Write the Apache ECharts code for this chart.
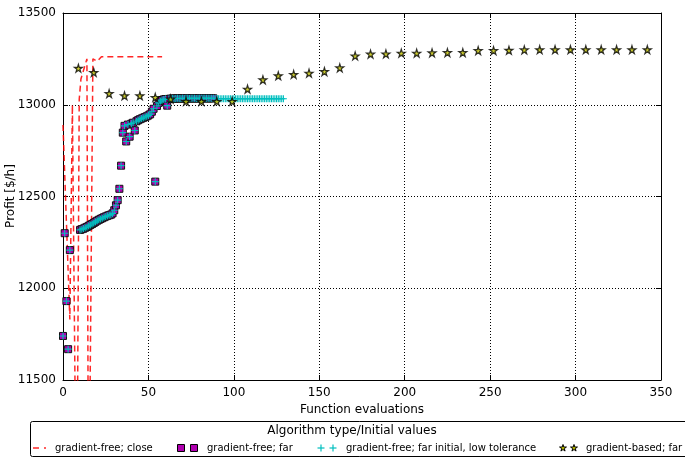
<!DOCTYPE html>
<html>
<head>
<meta charset="utf-8">
<script src="https://cdn.jsdelivr.net/npm/echarts@6/dist/echarts.min.js"></script>
<style>
  html, body { margin: 0; padding: 0; background: #fff; }
  #chart { width: 685px; height: 458px; }
</style>
</head>
<body>
<div id="chart"></div>
<script>
// Axis ticks
const xTicks = [0, 50, 100, 150, 200, 250, 300, 350];
const yTicks = [11500, 12000, 12500, 13000, 13500];

// gradient-free; close  (values below 11500 run off the bottom of the axes)
const closeX = [0, 4, 5.5, 8, 9.5, 10.5, 14, 15, 16, 17.5, 20, 22.5, 58];
const closeY = [12890, 11830, 13000, 10500, 13030, 13140, 13250, 10500, 10500, 13250, 13237, 13262, 13262];

// gradient-free; far
const farX = [0, 1, 2, 3, 4,
  10, 11, 12, 13, 14, 15, 16, 17, 18, 19, 20, 21, 22, 23, 24, 25, 26, 27, 28, 29,
  30, 31, 32, 33, 34, 35, 36, 37, 38, 39, 40, 41, 42, 43, 44, 45, 46, 47, 48, 49,
  50, 51, 52, 53, 54, 55, 56, 57, 58, 59, 60, 61, 62, 63, 64, 65, 66, 67, 68, 69,
  70, 71, 72, 73, 74, 75, 76, 77, 78, 79, 80, 81, 82, 83, 84, 85, 86, 87, 88];
const farY = [11740, 12300, 11930, 11668, 12208,
  12318, 12322, 12325, 12330, 12334, 12340, 12345, 12350, 12356, 12362, 12368, 12373, 12378, 12382, 12387, 12391, 12395, 12398, 12401, 12408,
  12425, 12452, 12480, 12542, 12668, 12848, 12885, 12800, 12892, 12826, 12897, 12902, 12860, 12910, 12916, 12921, 12925, 12929, 12933, 12937,
  12942, 12948, 12962, 12978, 12581, 12993, 13010, 13020, 13026, 13029, 13031, 12995, 13032, 13033, 13034, 13033, 13034, 13035, 13034, 13034,
  13035, 13034, 13035, 13035, 13034, 13035, 13035, 13035, 13034, 13035, 13035, 13035, 13035, 13035, 13035, 13035, 13035, 13035, 13035];

// gradient-free; far initial, low tolerance (tail after the shared start)
const lowTolX = [89, 90, 91, 92, 93, 94, 95, 96, 97, 98, 99, 100, 101, 102, 103, 104, 105, 106, 107, 108, 109,
  110, 111, 112, 113, 114, 115, 116, 117, 118, 119, 120, 121, 122, 123, 124, 125, 126, 127, 128, 129];
const lowTolY = [13034, 13034, 13033, 13033, 13033, 13033, 13033, 13033, 13033, 13033, 13033, 13033, 13033, 13033, 13033, 13033, 13033, 13033, 13033, 13033, 13033,
  13033, 13033, 13033, 13033, 13033, 13033, 13033, 13033, 13033, 13033, 13033, 13033, 13033, 13033, 13033, 13033, 13033, 13033, 13033, 13033];

// gradient-based; far
const gbX = [9, 18, 27, 36, 45, 54, 63, 72, 81, 90, 99, 108, 117, 126, 135, 144, 153, 162, 171,
  180, 189, 198, 207, 216, 225, 234, 243, 252, 261, 270, 279, 288, 297, 306, 315, 324, 333, 342];
const gbY = [13199, 13176, 13061, 13049, 13049, 13040, 13031, 13018, 13018, 13018, 13018, 13085, 13136, 13158, 13165, 13172, 13181, 13201, 13266,
  13276, 13277, 13281, 13281, 13283, 13284, 13284, 13295, 13295, 13297, 13299, 13300, 13300, 13300, 13300, 13300, 13300, 13300, 13300];

const legendTitle = 'Algorithm type/Initial values';
const legendNames = ['gradient-free; close', 'gradient-free; far', 'gradient-free; far initial, low tolerance', 'gradient-based; far'];
const yName = 'Profit [$/h]';
const xName = 'Function evaluations';

const pairs = (xs, ys) => xs.map((x, i) => [x, ys[i]]);

const FONT = '"DejaVu Sans", sans-serif';
const STAR_PTS = [[50,0],[61,35],[98,35],[68,57],[79,91],[50,70],[21,91],[32,57],[2,35],[39,35]];
const STAR = 'path://M' + STAR_PTS.map(p => p.join(',')).join(' L') + ' Z';
const PLUS = 'path://M4.2,0 H5.8 V4.2 H10 V5.8 H5.8 V10 H4.2 V5.8 H0 V4.2 H4.2 Z';

const sqColor = '#b000b0';
const crossColor = '#00bfbf';
const starColor = '#bfbf00';
const redColor = 'rgba(255,0,0,0.85)';

const chart = echarts.init(document.getElementById('chart'), null, { renderer: 'canvas' });

const axisCommon = {
  type: 'value',
  axisLine: { show: true, onZero: false, lineStyle: { color: '#000', width: 1 } },
  axisTick: { show: true, inside: true, length: 5, lineStyle: { color: '#000', width: 1 } },
  minorTick: { show: false }
};

// Legend frame, title and samples; y-axis title drawn rotated beside the axis
const LY = 448;
const LEGEND_FONT = '10px ' + FONT;
const graphic = [
  { type: 'text', x: 11, y: 196, rotation: Math.PI / 2, z: 11,
    style: { text: yName, font: '12px ' + FONT, fill: '#000', textAlign: 'center', textVerticalAlign: 'middle' } },
  { type: 'rect', shape: { x: 30.5, y: 421.5, width: 665, height: 35, r: 2 },
    style: { fill: '#fff', stroke: '#000', lineWidth: 1 }, z: 10 },
  { type: 'text', x: 352, y: 431, z: 11,
    style: { text: legendTitle, font: '12px ' + FONT, fill: '#000', textAlign: 'center', textVerticalAlign: 'middle' } },
  { type: 'line', shape: { x1: 33, y1: LY, x2: 46, y2: LY }, z: 11,
    style: { stroke: redColor, lineWidth: 1.5, lineDash: [6, 5] } }
];
[181, 194].forEach(cx => {
  graphic.push({ type: 'rect', z: 11, shape: { x: cx - 3.5, y: LY - 3.5, width: 7, height: 7 },
    style: { fill: sqColor, stroke: '#000', lineWidth: 1 } });
});
[321, 333].forEach(cx => {
  graphic.push({ type: 'line', z: 11, shape: { x1: cx - 3.5, y1: LY, x2: cx + 3.5, y2: LY }, style: { stroke: crossColor, lineWidth: 1.2 } });
  graphic.push({ type: 'line', z: 11, shape: { x1: cx, y1: LY - 3.5, x2: cx, y2: LY + 3.5 }, style: { stroke: crossColor, lineWidth: 1.2 } });
});
[563, 574].forEach(cx => {
  graphic.push({
    type: 'polygon', z: 11,
    shape: { points: STAR_PTS.map(p => [cx - 3.6 + p[0] * 0.072, LY - 3.5 + p[1] * 0.072]) },
    style: { fill: starColor, stroke: '#000', lineWidth: 1 }
  });
});
const legendTextX = [55, 207, 346, 586];
legendNames.forEach((name, i) => {
  graphic.push({ type: 'text', x: legendTextX[i], y: LY, z: 11,
    style: { text: name, font: LEGEND_FONT, fill: '#000', textAlign: 'left', textVerticalAlign: 'middle' } });
});

const option = {
  animation: false,
  backgroundColor: '#fff',
  textStyle: { fontFamily: FONT },
  grid: { left: 63, right: 24, top: 13, bottom: 78, containLabel: false, outerBoundsMode: 'none' },
  xAxis: [
    Object.assign({}, axisCommon, {
      position: 'bottom', min: xTicks[0], max: xTicks[xTicks.length - 1], interval: 50,
      name: xName, nameLocation: 'middle', nameGap: 22,
      nameTextStyle: { fontSize: 12, color: '#000', fontFamily: FONT },
      axisLabel: { show: true, color: '#000', fontSize: 12, fontFamily: FONT, margin: 7, formatter: v => String(v) },
      splitLine: { show: true, lineStyle: { color: '#000', width: 1, type: [1, 2] } }
    }),
    Object.assign({}, axisCommon, {
      position: 'top', min: xTicks[0], max: xTicks[xTicks.length - 1], interval: 50,
      axisLabel: { show: false }, splitLine: { show: false }
    })
  ],
  yAxis: [
    Object.assign({}, axisCommon, {
      position: 'left', min: yTicks[0], max: yTicks[yTicks.length - 1], interval: 500,
      axisLabel: { show: true, color: '#000', fontSize: 12, fontFamily: FONT, margin: 7, formatter: v => String(v) },
      splitLine: { show: true, lineStyle: { color: '#000', width: 1, type: [1, 2] } }
    }),
    Object.assign({}, axisCommon, {
      position: 'right', min: yTicks[0], max: yTicks[yTicks.length - 1], interval: 500,
      axisLabel: { show: false }, splitLine: { show: false }
    })
  ],
  series: [
    {
      name: legendNames[0], type: 'line', data: pairs(closeX, closeY), clip: true,
      showSymbol: false, symbol: 'none',
      lineStyle: { color: redColor, width: 1.5, type: [6, 4] }, z: 2
    },
    {
      name: legendNames[1], type: 'scatter', data: pairs(farX, farY), symbol: 'rect', symbolSize: 7,
      itemStyle: { color: sqColor, borderColor: '#111', borderWidth: 1, opacity: 1 }, z: 3
    },
    {
      name: legendNames[2], type: 'scatter', data: pairs(farX, farY).concat(pairs(lowTolX, lowTolY)),
      symbol: PLUS, symbolSize: 7,
      itemStyle: { color: crossColor, opacity: 1 }, z: 4
    },
    {
      name: legendNames[3], type: 'scatter', data: pairs(gbX, gbY), symbol: STAR, symbolSize: 8,
      itemStyle: { color: starColor, borderColor: '#000', borderWidth: 1.2 }, z: 5
    }
  ],
  graphic: graphic
};

chart.setOption(option);
</script>
</body>
</html>
